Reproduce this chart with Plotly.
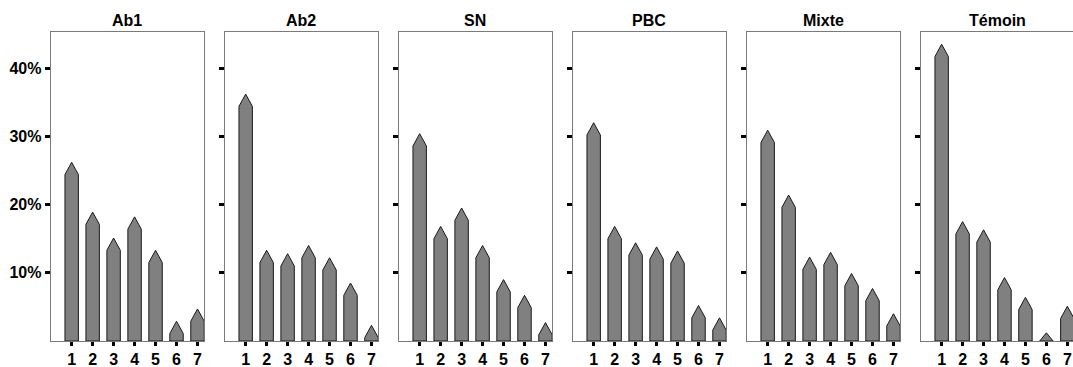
import plotly.graph_objects as go

groups = ["Ab1", "Ab2", "SN", "PBC", "Mixte", "Témoin"]
categories = [1, 2, 3, 4, 5, 6, 7]
# values (percent) read at the tip of each pointed bar
ab1 = [26.2, 18.9, 15.1, 18.2, 13.3, 2.9, 4.7]
ab2 = [36.2, 13.3, 12.8, 14.0, 12.2, 8.5, 2.3]
sn = [30.4, 16.8, 19.5, 14.0, 9.0, 6.7, 2.7]
pbc = [32.0, 16.8, 14.4, 13.8, 13.2, 5.2, 3.4]
mixte = [30.9, 21.4, 12.3, 13.0, 9.9, 7.7, 4.0]
temoin = [43.5, 17.5, 16.3, 9.3, 6.4, 1.2, 5.1]
series = [ab1, ab2, sn, pbc, mixte, temoin]
ytick_vals = [10, 20, 30, 40]
ytick_text = ["10%", "20%", "30%", "40%"]

W, H = 1073, 367
BAR_W = 0.64
HEAD = 1.8
FONT = "Arial, Liberation Sans, sans-serif"

fig = go.Figure()
layout = dict(width=W, height=H, margin=dict(l=0, r=0, t=32, b=26),
              plot_bgcolor="white", paper_bgcolor="white", showlegend=False,
              annotations=[])

left0, step, pw = 50.7, 174.0, 153.5
for i, (g, vals) in enumerate(zip(groups, series)):
    n = "" if i == 0 else str(i + 1)
    xs, ys = [], []
    for c, v in zip(categories, vals):
        sh = max(0.0, v - HEAD)
        xs += [c - BAR_W / 2, c - BAR_W / 2, c, c + BAR_W / 2, c + BAR_W / 2, c - BAR_W / 2, None]
        ys += [0, sh, v, sh, 0, 0, None]
    fig.add_trace(go.Scatter(x=xs, y=ys, mode="lines", fill="toself",
                             fillcolor="#808080", line=dict(color="#1a1a1a", width=1),
                             xaxis="x" + n, yaxis="y" + n, hoverinfo="skip"))
    x0 = (left0 + i * step) / W
    x1 = min(1.0, (left0 + i * step + pw) / W)
    xr = 7.32 if i < 5 else 7.27
    layout["xaxis" + n] = dict(domain=[x0, x1], range=[0, xr], anchor="y" + n,
                               tickvals=categories, ticks="outside", ticklen=4, tickwidth=2.5,
                               tickcolor="black", showgrid=False, zeroline=False,
                               showline=True, linecolor="#7a7a7a", linewidth=1, mirror=True,
                               tickfont=dict(family=FONT, size=16, color="black", weight="bold"))
    layout["yaxis" + n] = dict(domain=[0, 1], range=[0, 45.3], anchor="x" + n,
                               tickvals=ytick_vals, ticktext=ytick_text,
                               showticklabels=(i == 0), ticks="outside", ticklen=5,
                               tickwidth=2.5, tickcolor="black", showgrid=False,
                               zeroline=False, showline=True, linecolor="#7a7a7a",
                               linewidth=1, mirror=True,
                               tickfont=dict(family=FONT, size=16, color="black", weight="bold"))
    layout["annotations"].append(dict(text="<b>" + g + "</b>", x=(x0 + (left0 + i * step + pw) / W) / 2,
                                      y=1, xref="paper", yref="paper", yanchor="bottom",
                                      xanchor="center", yshift=1, showarrow=False,
                                      font=dict(family=FONT, size=16, color="black")))

fig.update_layout(**layout)
fig.write_html("out.html")
